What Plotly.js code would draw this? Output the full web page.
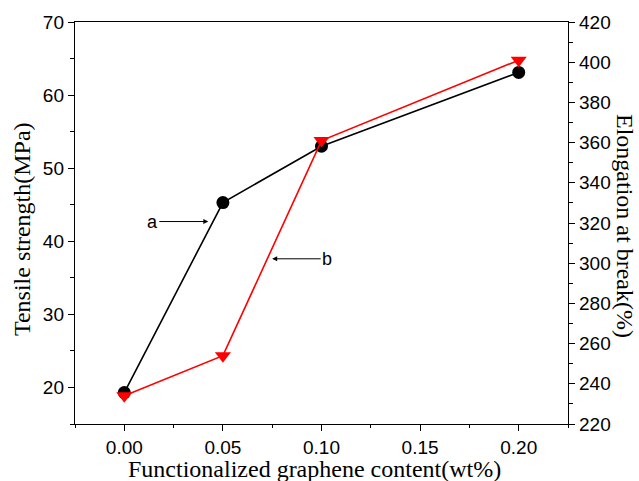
<!DOCTYPE html>
<html>
<head>
<meta charset="utf-8">
<script src="https://cdn.plot.ly/plotly-3.0.1.min.js"></script>
<style>html,body{margin:0;padding:0;background:#fff;}#chart{width:639px;height:481px;}</style>
</head>
<body>
<div id="chart"></div>
<script>
var content = [0.00, 0.05, 0.10, 0.20];
var tensileStrength = [19.3, 45.3, 53.0, 63.1];
var elongation = [234, 254, 361, 401];
var xTicks = [0.00, 0.05, 0.10, 0.15, 0.20];
var xTickLabels = ["0.00", "0.05", "0.10", "0.15", "0.20"];
var xTitle = "Functionalized graphene content(wt%)";
var yTitle = "Tensile strength(MPa)";
var y2Title = "Elongation at break(%)";

var tickFont = {family: "Liberation Sans, Arial, sans-serif", size: 19, color: "#000"};
var titleFont = {family: "Liberation Serif, Times New Roman, serif", size: 24, color: "#000"};

var traces = [
  {x: content, y: tensileStrength, type: "scatter", mode: "lines+markers", yaxis: "y",
   line: {color: "#000", width: 1.6}, marker: {symbol: "circle", size: 13, color: "#000"}, showlegend: false},
  {x: content, y: elongation, type: "scatter", mode: "lines+markers", yaxis: "y2",
   line: {color: "#ff0000", width: 1.6}, marker: {symbol: "triangle-down", size: 14, color: "#ff0000"}, showlegend: false}
];

var layout = {
  width: 639, height: 481,
  margin: {l: 75, r: 71, t: 22, b: 57},
  paper_bgcolor: "#fff", plot_bgcolor: "#fff",
  xaxis: {
    range: [-0.025, 0.225], tickvals: xTicks, ticktext: xTickLabels,
    ticks: "outside", ticklen: 6, tickwidth: 1, tickcolor: "#000",
    minor: {dtick: 0.025, tick0: 0, ticks: "outside", ticklen: 3, tickcolor: "#000"},
    showline: true, linecolor: "#000", linewidth: 1.2, mirror: true,
    showgrid: false, zeroline: false, tickfont: tickFont
  },
  yaxis: {
    range: [15, 70], dtick: 10, tick0: 0,
    ticks: "outside", ticklen: 6, tickwidth: 1, tickcolor: "#000",
    minor: {dtick: 5, ticks: "outside", ticklen: 4, tickcolor: "#000"},
    showline: true, linecolor: "#000", linewidth: 1.2,
    showgrid: false, zeroline: false, tickfont: tickFont
  },
  yaxis2: {
    range: [220, 420], dtick: 20, tick0: 0, overlaying: "y", side: "right",
    ticks: "outside", ticklen: 6, tickwidth: 1, tickcolor: "#000",
    minor: {dtick: 10, ticks: "outside", ticklen: 4, tickcolor: "#000"},
    showline: true, linecolor: "#000", linewidth: 1.2,
    showgrid: false, zeroline: false, tickfont: tickFont
  },
  annotations: [
    {x: 0.0426, y: 42.7, xref: "x", yref: "y", text: "a", showarrow: true,
     ax: -56, ay: 0, arrowhead: 2, arrowsize: 1, arrowwidth: 1, arrowcolor: "#000",
     font: {family: "Liberation Sans, Arial, sans-serif", size: 18, color: "#000"}},
    {x: 0.075, y: 37.6, xref: "x", yref: "y", text: "b", showarrow: true,
     ax: 55, ay: 0, arrowhead: 2, arrowsize: 1, arrowwidth: 1, arrowcolor: "#000",
     font: {family: "Liberation Sans, Arial, sans-serif", size: 18, color: "#000"}},
    {x: 0.486, y: -0.113, xref: "paper", yref: "paper", text: xTitle, showarrow: false,
     xanchor: "center", yanchor: "middle", borderpad: 0, font: titleFont},
    {x: -0.1075, y: 0.485, xref: "paper", yref: "paper", text: yTitle, showarrow: false,
     textangle: -90, xanchor: "center", yanchor: "middle", borderpad: 0, font: titleFont},
    {x: 1.1156, y: 0.4925, xref: "paper", yref: "paper", text: y2Title, showarrow: false,
     textangle: 90, xanchor: "center", yanchor: "middle", borderpad: 0, font: titleFont}
  ]
};

Plotly.newPlot("chart", traces, layout, {displayModeBar: false, staticPlot: true});
</script>
</body>
</html>
